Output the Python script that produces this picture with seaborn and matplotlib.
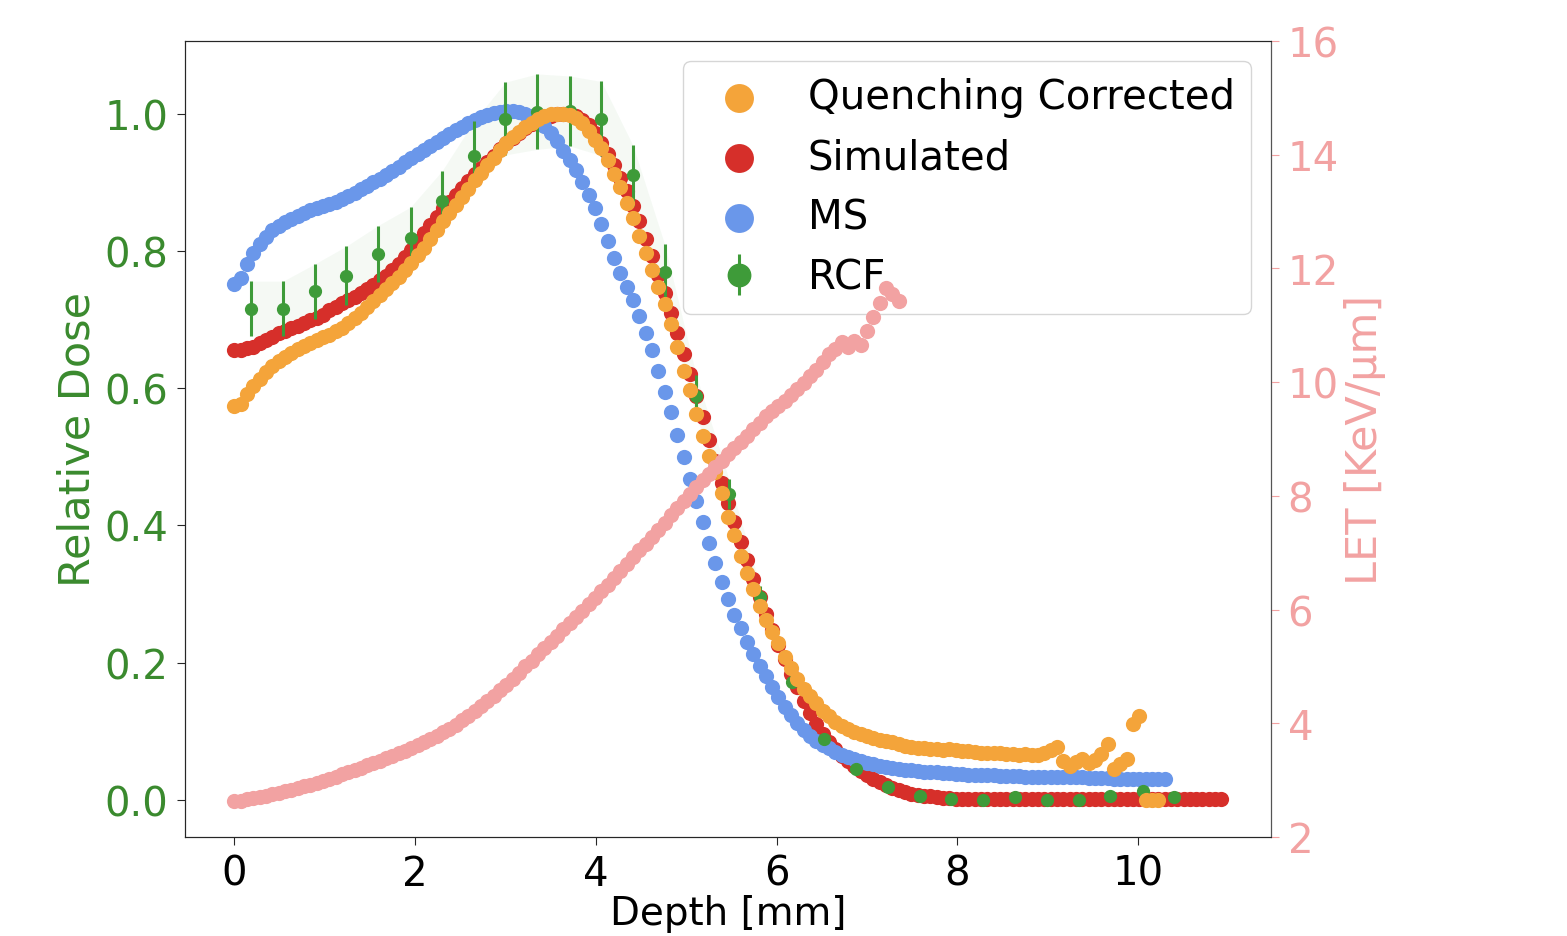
import numpy as np
import pandas as pd
import matplotlib
matplotlib.use('Agg')
import matplotlib.pyplot as plt
import seaborn as sns

# depth grid spacing of the scanned profiles [mm]
depth_step = 0.07

# MS profile (relative dose)
ms_dose = [
    0.752, 0.760, 0.781, 0.797, 0.810, 0.821, 0.830, 0.836, 0.842, 0.847,
    0.851, 0.855, 0.859, 0.862, 0.865, 0.868, 0.872, 0.876, 0.880, 0.885,
    0.890, 0.895, 0.900, 0.905, 0.911, 0.916, 0.922, 0.929, 0.935, 0.941,
    0.947, 0.953, 0.959, 0.964, 0.970, 0.976, 0.981, 0.986, 0.991, 0.995,
    0.998, 1.001, 1.003, 1.004, 1.004, 1.003, 1.000, 0.996, 0.990, 0.982,
    0.972, 0.960, 0.946, 0.932, 0.918, 0.900, 0.882, 0.862, 0.840, 0.815,
    0.790, 0.768, 0.748, 0.728, 0.705, 0.680, 0.655, 0.625, 0.595, 0.565,
    0.532, 0.500, 0.468, 0.435, 0.405, 0.375, 0.345, 0.318, 0.293, 0.270,
    0.250, 0.230, 0.212, 0.195, 0.180, 0.165, 0.150, 0.136, 0.124, 0.112,
    0.102, 0.093, 0.086, 0.080, 0.075, 0.070, 0.066, 0.062, 0.059, 0.057,
    0.054, 0.052, 0.050, 0.048, 0.047, 0.045, 0.044, 0.043, 0.042, 0.041,
    0.040, 0.040, 0.039, 0.039, 0.038, 0.038, 0.037, 0.037, 0.036, 0.036,
    0.036, 0.035, 0.035, 0.035, 0.035, 0.034, 0.034, 0.034, 0.034, 0.034,
    0.033, 0.033, 0.033, 0.033, 0.033, 0.032, 0.032, 0.032, 0.032, 0.031,
    0.031, 0.031, 0.031, 0.030, 0.030, 0.030, 0.030, 0.030,
]

# quenching corrected profile
qc_dose = [
    0.574, 0.577, 0.592, 0.603, 0.614, 0.623, 0.632, 0.640, 0.646, 0.652,
    0.657, 0.662, 0.666, 0.670, 0.674, 0.678, 0.683, 0.688, 0.695, 0.702,
    0.710, 0.719, 0.727, 0.736, 0.745, 0.753, 0.762, 0.772, 0.783, 0.794,
    0.805, 0.817, 0.830, 0.843, 0.855, 0.867, 0.879, 0.891, 0.903, 0.914,
    0.925, 0.936, 0.947, 0.957, 0.966, 0.974, 0.981, 0.987, 0.992, 0.996,
    0.999, 1.000, 1.000, 0.998, 0.994, 0.986, 0.975, 0.962, 0.950, 0.932,
    0.912, 0.893, 0.870, 0.848, 0.822, 0.797, 0.772, 0.747, 0.722, 0.693,
    0.660, 0.625, 0.598, 0.563, 0.530, 0.501, 0.478, 0.447, 0.412, 0.386,
    0.355, 0.330, 0.308, 0.283, 0.262, 0.244, 0.228, 0.208, 0.192, 0.176,
    0.162, 0.151, 0.141, 0.130, 0.122, 0.114, 0.108, 0.103, 0.099, 0.096,
    0.093, 0.090, 0.088, 0.086, 0.084, 0.082, 0.079, 0.077, 0.076, 0.075,
    0.074, 0.074, 0.073, 0.074, 0.072, 0.071, 0.071, 0.070, 0.069, 0.069,
    0.068, 0.068, 0.067, 0.067, 0.066, 0.067, 0.066, 0.066, 0.068, 0.072,
    0.077, 0.057, 0.050, 0.055, 0.060, 0.054, 0.058, 0.067, 0.082, 0.045,
    0.052, 0.060, 0.111, 0.122, 0.000, 0.000, 0.000,
]

# simulated profile
sim_dose = [
    0.655, 0.656, 0.658, 0.660, 0.666, 0.670, 0.675, 0.680, 0.684, 0.688,
    0.691, 0.695, 0.699, 0.703, 0.707, 0.714, 0.719, 0.724, 0.728, 0.733,
    0.738, 0.744, 0.750, 0.757, 0.764, 0.772, 0.781, 0.791, 0.802, 0.814,
    0.826, 0.838, 0.850, 0.862, 0.872, 0.882, 0.892, 0.902, 0.912, 0.921,
    0.930, 0.939, 0.948, 0.957, 0.965, 0.972, 0.979, 0.985, 0.990, 0.994,
    0.997, 0.999, 1.000, 0.999, 0.996, 0.991, 0.983, 0.972, 0.958, 0.942,
    0.925, 0.907, 0.887, 0.866, 0.843, 0.818, 0.792, 0.765, 0.738, 0.710,
    0.680, 0.650, 0.620, 0.589, 0.558, 0.525, 0.494, 0.462, 0.433, 0.405,
    0.376, 0.349, 0.322, 0.296, 0.271, 0.248, 0.226, 0.205, 0.184, 0.164,
    0.144, 0.126, 0.110, 0.096, 0.084, 0.074, 0.064, 0.056, 0.049, 0.042,
    0.036, 0.031, 0.026, 0.021, 0.017, 0.014, 0.011, 0.009, 0.007, 0.006,
    0.005, 0.004, 0.003, 0.003, 0.002, 0.002, 0.002, 0.002, 0.002, 0.002,
    0.002, 0.002, 0.002, 0.002, 0.002, 0.002, 0.002, 0.002, 0.002, 0.002,
    0.002, 0.001, 0.001, 0.001, 0.001, 0.001, 0.001, 0.001, 0.001, 0.001,
    0.001, 0.001, 0.001, 0.001, 0.001, 0.001, 0.001, 0.001, 0.001, 0.001,
    0.001, 0.001, 0.001, 0.001, 0.001, 0.001, 0.001,
]

# LET along depth [keV/um]
let_vals = [
    2.63, 2.64, 2.66, 2.68, 2.70, 2.72, 2.75, 2.78, 2.80, 2.83,
    2.86, 2.89, 2.92, 2.95, 2.99, 3.02, 3.06, 3.10, 3.14, 3.18,
    3.22, 3.26, 3.30, 3.34, 3.38, 3.42, 3.47, 3.52, 3.57, 3.62,
    3.67, 3.72, 3.78, 3.84, 3.90, 3.97, 4.05, 4.13, 4.21, 4.30,
    4.39, 4.48, 4.58, 4.68, 4.78, 4.89, 5.00, 5.10, 5.21, 5.32,
    5.43, 5.54, 5.65, 5.76, 5.87, 5.98, 6.09, 6.20, 6.32, 6.44,
    6.56, 6.68, 6.80, 6.92, 7.04, 7.16, 7.28, 7.40, 7.53, 7.66,
    7.79, 7.91, 8.03, 8.15, 8.27, 8.39, 8.51, 8.62, 8.73, 8.84,
    8.95, 9.06, 9.17, 9.28, 9.40, 9.50, 9.58, 9.66, 9.78, 9.88,
    9.98, 10.10, 10.22, 10.35, 10.50, 10.58, 10.70, 10.62, 10.72, 10.66,
    10.90, 11.15, 11.40, 11.65, 11.55, 11.42,
]

# RCF film measurements
rcf_depth = [0.19, 0.54, 0.89, 1.24, 1.59, 1.95, 2.30, 2.65, 3.00, 3.35,
             3.71, 4.06, 4.41, 4.76, 5.11, 5.47, 5.82, 6.17, 6.52, 6.88,
             7.23, 7.58, 7.93, 8.28, 8.64, 8.99, 9.34, 9.69, 10.05, 10.40]
rcf_dose = [0.716, 0.716, 0.741, 0.764, 0.796, 0.819, 0.873, 0.939, 0.993, 1.003,
            1.004, 0.993, 0.910, 0.770, 0.589, 0.446, 0.296, 0.172, 0.089, 0.045,
            0.019, 0.006, 0.002, 0.000, 0.004, 0.000, 0.000, 0.006, 0.013, 0.004]
rcf_err = [0.040, 0.040, 0.040, 0.043, 0.041, 0.045, 0.044, 0.050, 0.053, 0.055,
           0.051, 0.054, 0.044, 0.040, 0.030, 0.022, 0.015, 0.009, 0.004, 0.002,
           0.001, 0.000, 0.000, 0.000, 0.000, 0.000, 0.000, 0.000, 0.000, 0.000]


def profile(vals):
    return pd.DataFrame({'depth': np.arange(len(vals)) * depth_step, 'value': vals})


df_ms = profile(ms_dose)
df_qc = profile(qc_dose)
df_sim = profile(sim_dose)
df_let = profile(let_vals)

c_orange = '#f4a43a'
c_red = '#d62f2a'
c_blue = '#6a97ea'
c_green = '#3e9b39'
c_green_txt = '#3a8a2e'
c_pink = '#f2a2a2'

sns.set_style('ticks')
plt.rcParams['font.family'] = ['DejaVu Sans']
plt.rcParams['text.color'] = 'black'
fs = 29
msize = 120

fig = plt.figure(figsize=(15.67, 9.37), dpi=100)
ax = fig.add_axes([0.118, 0.1057, 0.693, 0.8495])

sns.scatterplot(data=df_sim, x='depth', y='value', color=c_red, s=msize,
                linewidth=0, ax=ax, zorder=2, legend=False)
h_sim = ax.collections[-1]
sns.scatterplot(data=df_ms, x='depth', y='value', color=c_blue, s=msize,
                linewidth=0, ax=ax, zorder=3, legend=False)
h_ms = ax.collections[-1]

# faint uncertainty band of the film
lo = np.array(rcf_dose) - np.array(rcf_err)
hi = np.array(rcf_dose) + np.array(rcf_err)
ax.fill_between(rcf_depth, lo, hi, color=c_green, alpha=0.05, linewidth=0, zorder=1)
h_rcf = ax.errorbar(rcf_depth, rcf_dose, yerr=rcf_err, fmt='o', ms=8.5,
                    color=c_green, ecolor=c_green, elinewidth=2.2, capsize=0, zorder=4)

sns.scatterplot(data=df_qc, x='depth', y='value', color=c_orange, s=msize,
                linewidth=0, ax=ax, zorder=5, legend=False)
h_qc = ax.collections[-1]

ax.set_ylim(-0.054, 1.106)
ax.set_xticks([0, 2, 4, 6, 8, 10])
ax.set_yticks([0.0, 0.2, 0.4, 0.6, 0.8, 1.0])
ax.set_xlabel('Depth [mm]', fontsize=28, color='black', labelpad=0)
ax.set_ylabel('Relative Dose', fontsize=31, color=c_green_txt)
ax.tick_params(axis='x', labelsize=fs, labelcolor='black', length=6, pad=6)
ax.tick_params(axis='y', labelsize=fs, labelcolor=c_green_txt, length=6, pad=6)
for sp in ax.spines.values():
    sp.set_color('#333333')

leg = ax.legend([h_qc, h_sim, h_ms, h_rcf],
                ['Quenching Corrected', 'Simulated', 'MS', 'RCF'],
                loc='upper right', fontsize=fs, markerscale=1.9, frameon=True,
                handletextpad=0.7)
for t in leg.get_texts():
    t.set_color('black')

ax2 = ax.twinx()
sns.scatterplot(data=df_let, x='depth', y='value', color=c_pink, s=msize,
                linewidth=0, ax=ax2, legend=False)
ax2.set_ylim(2, 16)
ax2.set_yticks([2, 4, 6, 8, 10, 12, 14, 16])
ax2.set_ylabel('LET [KeV/μm]', fontsize=31, color=c_pink)
ax2.set_xlabel('')
ax2.tick_params(axis='y', labelsize=fs, colors=c_pink, length=6, pad=6)
ax2.spines['right'].set_color('#555555')

fig.savefig('out.png', dpi=100)
